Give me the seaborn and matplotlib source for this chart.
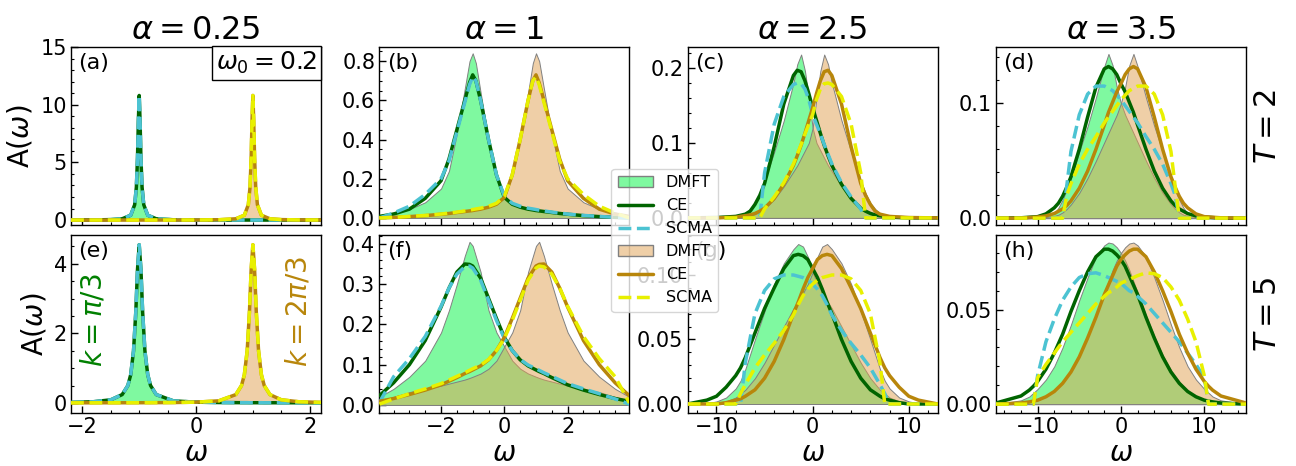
import matplotlib
matplotlib.use('Agg')
import matplotlib.pyplot as plt
from matplotlib.colors import to_rgba
from matplotlib.lines import Line2D
from matplotlib.patches import Patch
from matplotlib.ticker import MultipleLocator, AutoMinorLocator
import seaborn as sns

# ---- spectral functions (k = pi/3 -> "lo", k = 2pi/3 -> "hi") ----

# (a) alpha=0.25, T=2
w_a = [-2.2, -1.8, -1.5, -1.3, -1.15, -1.08, -1.05, -1.03, -1.015, -1.0, -0.985, -0.97, -0.95, -0.92,
       -0.85, -0.7, -0.4, 0.0, 0.4, 0.7, 0.85, 0.92, 0.95, 0.97, 0.985, 1.0, 1.015, 1.03, 1.05, 1.08,
       1.15, 1.3, 1.5, 1.8, 2.2]
peak_a_lo = [0.007, 0.015, 0.04, 0.11, 0.42, 1.33, 2.86, 5.4, 8.6, 10.8, 8.6, 5.4, 2.86, 1.33, 0.42, 0.11,
             0.027, 0.01, 0.005, 0.004, 0.003, 0.003, 0.003, 0.003, 0.003, 0.003, 0.003, 0.003, 0.003,
             0.003, 0.002, 0.002, 0.002, 0.001, 0.001]
peak_a_hi = [0.001, 0.001, 0.002, 0.002, 0.002, 0.003, 0.003, 0.003, 0.003, 0.003, 0.003, 0.003, 0.003,
             0.003, 0.003, 0.004, 0.005, 0.01, 0.027, 0.11, 0.42, 1.33, 2.86, 5.4, 8.6, 10.8, 8.6, 5.4,
             2.86, 1.33, 0.42, 0.11, 0.04, 0.015, 0.007]

# (b) alpha=1, T=2
w_b = [-3.95, -3.5, -3.0, -2.5, -2.0, -1.75, -1.5, -1.25, -1.1, -1.0, -0.9, -0.75, -0.5, -0.25, 0.0,
       0.25, 0.5, 0.75, 0.9, 1.0, 1.1, 1.25, 1.5, 1.75, 2.0, 2.5, 3.0, 3.5, 3.95]
dmft_b_lo = [0.012, 0.028, 0.045, 0.08, 0.15, 0.24, 0.43, 0.66, 0.8, 0.84, 0.79, 0.64, 0.4, 0.22, 0.1,
             0.07, 0.055, 0.047, 0.043, 0.04, 0.038, 0.035, 0.03, 0.026, 0.022, 0.015, 0.01, 0.005, 0.003]
dmft_b_hi = [0.003, 0.005, 0.01, 0.015, 0.022, 0.026, 0.03, 0.035, 0.038, 0.04, 0.043, 0.047, 0.055, 0.07,
             0.1, 0.22, 0.4, 0.64, 0.79, 0.84, 0.8, 0.66, 0.43, 0.24, 0.15, 0.08, 0.045, 0.028, 0.012]
ce_b_lo = [0.008, 0.02, 0.045, 0.1, 0.19, 0.3, 0.45, 0.6, 0.69, 0.73, 0.7, 0.6, 0.4, 0.22, 0.105,
           0.07, 0.055, 0.045, 0.041, 0.038, 0.036, 0.033, 0.028, 0.023, 0.019, 0.012, 0.007, 0.003, 0.001]
ce_b_hi = [0.001, 0.003, 0.007, 0.012, 0.019, 0.023, 0.028, 0.033, 0.036, 0.038, 0.041, 0.045, 0.055,
           0.07, 0.105, 0.22, 0.4, 0.6, 0.7, 0.73, 0.69, 0.6, 0.45, 0.3, 0.19, 0.1, 0.045, 0.02, 0.008]
scma_b_lo = [0.0, 0.025, 0.06, 0.12, 0.2, 0.29, 0.44, 0.59, 0.68, 0.72, 0.7, 0.6, 0.4, 0.22, 0.11,
             0.075, 0.06, 0.05, 0.046, 0.043, 0.04, 0.036, 0.03, 0.025, 0.02, 0.013, 0.008, 0.003, 0.0]
scma_b_hi = [0.0, 0.003, 0.008, 0.013, 0.02, 0.025, 0.03, 0.036, 0.04, 0.043, 0.046, 0.05, 0.06, 0.075,
             0.11, 0.22, 0.4, 0.6, 0.7, 0.72, 0.68, 0.59, 0.44, 0.29, 0.2, 0.12, 0.06, 0.025, 0.0]

# (c) alpha=2.5, T=2
w_c = [-13, -10, -8, -7, -6.5, -6, -5.5, -5, -4, -3, -2, -1.6, -1.2, -0.8, -0.4, 0, 0.4, 0.8, 1.2,
       1.6, 2, 3, 4, 5, 5.5, 6, 6.5, 7, 8, 10, 13]
dmft_c_lo = [0, 0, 0.001, 0.006, 0.012, 0.02, 0.033, 0.05, 0.088, 0.13, 0.18, 0.205, 0.218, 0.196, 0.16,
             0.12, 0.1, 0.09, 0.08, 0.07, 0.062, 0.042, 0.025, 0.012, 0.008, 0.005, 0.003, 0.002, 0.001, 0, 0]
dmft_c_hi = [0, 0, 0.001, 0.002, 0.003, 0.005, 0.008, 0.012, 0.025, 0.042, 0.062, 0.07, 0.08, 0.09, 0.1,
             0.12, 0.16, 0.196, 0.218, 0.205, 0.18, 0.13, 0.088, 0.05, 0.033, 0.02, 0.012, 0.006, 0.001, 0, 0]
ce_c_lo = [0, 0.0005, 0.002, 0.005, 0.009, 0.018, 0.03, 0.046, 0.095, 0.152, 0.19, 0.197, 0.195, 0.183,
           0.166, 0.147, 0.13, 0.113, 0.097, 0.083, 0.07, 0.045, 0.026, 0.013, 0.009, 0.006, 0.004, 0.003,
           0.001, 0, 0]
ce_c_hi = [0, 0, 0.001, 0.003, 0.004, 0.006, 0.009, 0.013, 0.026, 0.045, 0.07, 0.083, 0.097, 0.113, 0.13,
           0.147, 0.166, 0.183, 0.195, 0.197, 0.19, 0.152, 0.095, 0.046, 0.03, 0.018, 0.009, 0.005, 0.002,
           0.0005, 0]
scma_c_lo = [0, 0, 0, 0, 0, 0, 0, 0.06, 0.125, 0.162, 0.178, 0.18, 0.179, 0.172, 0.158, 0.138, 0.125,
             0.112, 0.098, 0.085, 0.072, 0.047, 0.028, 0.012, 0, 0, 0, 0, 0, 0, 0]
scma_c_hi = [0, 0, 0, 0, 0, 0, 0, 0.012, 0.028, 0.047, 0.072, 0.085, 0.098, 0.112, 0.125, 0.138, 0.158,
             0.172, 0.179, 0.18, 0.178, 0.162, 0.125, 0.06, 0, 0, 0, 0, 0, 0, 0]

# (d) alpha=3.5, T=2
w_d = [-15, -12, -10, -9, -8, -7.5, -7, -6.5, -6, -5, -4, -3, -2, -1.5, -1, -0.5, 0, 0.5, 1, 1.5, 2,
       3, 4, 5, 6, 6.5, 7, 7.5, 8, 9, 10, 12, 15]
dmft_d_lo = [0, 0, 0.0005, 0.002, 0.004, 0.009, 0.016, 0.025, 0.035, 0.058, 0.08, 0.105, 0.132, 0.143,
             0.133, 0.114, 0.1, 0.09, 0.082, 0.074, 0.066, 0.05, 0.035, 0.022, 0.012, 0.008, 0.005, 0.003,
             0.002, 0.001, 0, 0, 0]
dmft_d_hi = [0, 0, 0, 0.001, 0.002, 0.003, 0.005, 0.008, 0.012, 0.022, 0.035, 0.05, 0.066, 0.074, 0.082,
             0.09, 0.1, 0.114, 0.133, 0.143, 0.132, 0.105, 0.08, 0.058, 0.035, 0.025, 0.016, 0.009, 0.004,
             0.002, 0.0005, 0, 0]
ce_d_lo = [0, 0.0003, 0.0013, 0.0037, 0.009, 0.013, 0.019, 0.027, 0.036, 0.06, 0.088, 0.114, 0.13, 0.132,
           0.13, 0.125, 0.117, 0.11, 0.101, 0.092, 0.081, 0.06, 0.041, 0.026, 0.015, 0.011, 0.008, 0.006,
           0.004, 0.002, 0.001, 0, 0]
ce_d_hi = [0, 0, 0.001, 0.002, 0.004, 0.006, 0.008, 0.011, 0.015, 0.026, 0.041, 0.06, 0.081, 0.092, 0.101,
           0.11, 0.117, 0.125, 0.13, 0.132, 0.13, 0.114, 0.088, 0.06, 0.036, 0.027, 0.019, 0.013, 0.009,
           0.0037, 0.0013, 0.0003, 0]
scma_d_lo = [0, 0, 0, 0, 0, 0, 0, 0.028, 0.058, 0.09, 0.108, 0.115, 0.115, 0.113, 0.111, 0.107, 0.103,
             0.098, 0.093, 0.088, 0.083, 0.071, 0.06, 0.047, 0.03, 0.02, 0, 0, 0, 0, 0, 0, 0]
scma_d_hi = [0, 0, 0, 0, 0, 0, 0, 0.02, 0.03, 0.047, 0.06, 0.071, 0.083, 0.088, 0.093, 0.098, 0.103,
             0.107, 0.111, 0.113, 0.115, 0.115, 0.108, 0.09, 0.058, 0.028, 0, 0, 0, 0, 0, 0, 0]

# (e) alpha=0.25, T=5
w_e = [-2.2, -1.8, -1.5, -1.3, -1.2, -1.15, -1.1, -1.06, -1.03, -1.0, -0.97, -0.94, -0.9, -0.85, -0.8,
       -0.7, -0.4, 0.0, 0.4, 0.7, 0.8, 0.85, 0.9, 0.94, 0.97, 1.0, 1.03, 1.06, 1.1, 1.15, 1.2, 1.3, 1.5,
       1.8, 2.2]
peak_e_lo = [0.015, 0.035, 0.09, 0.24, 0.5, 0.81, 1.5, 2.62, 3.84, 4.55, 3.84, 2.62, 1.5, 0.81, 0.5, 0.24,
             0.06, 0.022, 0.011, 0.008, 0.007, 0.007, 0.007, 0.006, 0.006, 0.006, 0.006, 0.006, 0.006,
             0.006, 0.005, 0.005, 0.005, 0.004, 0.003]
peak_e_hi = [0.003, 0.004, 0.005, 0.005, 0.005, 0.006, 0.006, 0.006, 0.006, 0.006, 0.006, 0.006, 0.007,
             0.007, 0.007, 0.008, 0.011, 0.022, 0.06, 0.24, 0.5, 0.81, 1.5, 2.62, 3.84, 4.55, 3.84, 2.62,
             1.5, 0.81, 0.5, 0.24, 0.09, 0.035, 0.015]

# (f) alpha=1, T=5
w_f = [-3.95, -3.5, -3.0, -2.5, -2.0, -1.75, -1.5, -1.25, -1.1, -1.0, -0.75, -0.5, -0.25, 0.0, 0.25,
       0.5, 0.75, 1.0, 1.1, 1.25, 1.5, 1.75, 2.0, 2.5, 3.0, 3.5, 3.95]
dmft_f_lo = [0.02, 0.04, 0.07, 0.11, 0.18, 0.235, 0.3, 0.37, 0.405, 0.395, 0.33, 0.235, 0.18, 0.145,
             0.11, 0.09, 0.078, 0.07, 0.067, 0.063, 0.058, 0.053, 0.048, 0.04, 0.032, 0.02, 0.01]
dmft_f_hi = [0.01, 0.02, 0.032, 0.04, 0.048, 0.053, 0.058, 0.063, 0.067, 0.07, 0.078, 0.09, 0.11, 0.145,
             0.18, 0.235, 0.33, 0.395, 0.405, 0.37, 0.3, 0.235, 0.18, 0.11, 0.07, 0.04, 0.02]
ce_f_lo = [0.023, 0.055, 0.1, 0.16, 0.243, 0.29, 0.33, 0.35, 0.349, 0.345, 0.315, 0.265, 0.215, 0.168,
           0.135, 0.112, 0.097, 0.087, 0.083, 0.078, 0.068, 0.059, 0.05, 0.037, 0.026, 0.016, 0.009]
ce_f_hi = [0.009, 0.016, 0.026, 0.037, 0.05, 0.059, 0.068, 0.078, 0.083, 0.087, 0.097, 0.112, 0.135,
           0.168, 0.215, 0.265, 0.315, 0.345, 0.349, 0.35, 0.33, 0.29, 0.243, 0.16, 0.1, 0.055, 0.023]
scma_f_lo = [0.005, 0.07, 0.115, 0.17, 0.245, 0.29, 0.325, 0.343, 0.345, 0.34, 0.31, 0.26, 0.21, 0.165,
             0.135, 0.113, 0.099, 0.09, 0.086, 0.08, 0.071, 0.062, 0.053, 0.04, 0.028, 0.015, 0.002]
scma_f_hi = [0.002, 0.015, 0.028, 0.04, 0.053, 0.062, 0.071, 0.08, 0.086, 0.09, 0.099, 0.113, 0.135,
             0.165, 0.21, 0.26, 0.31, 0.34, 0.345, 0.343, 0.325, 0.29, 0.245, 0.17, 0.115, 0.07, 0.005]

# (g) alpha=2.5, T=5
w_g = [-13, -11, -10, -9, -8, -7.5, -7, -6, -5, -4, -3, -2, -1.5, -1, -0.5, 0, 0.5, 1, 1.5, 2, 3, 4,
       5, 6, 7, 7.5, 8, 9, 10, 11, 13]
dmft_g_lo = [0, 0.0005, 0.002, 0.005, 0.012, 0.018, 0.027, 0.05, 0.072, 0.093, 0.109, 0.12, 0.124, 0.122,
             0.114, 0.102, 0.093, 0.086, 0.08, 0.074, 0.06, 0.046, 0.032, 0.02, 0.011, 0.008, 0.005, 0.002,
             0.001, 0, 0]
dmft_g_hi = [0, 0, 0.001, 0.002, 0.005, 0.008, 0.011, 0.02, 0.032, 0.046, 0.06, 0.074, 0.08, 0.086, 0.093,
             0.102, 0.114, 0.122, 0.124, 0.12, 0.109, 0.093, 0.072, 0.05, 0.027, 0.018, 0.012, 0.005,
             0.002, 0.0005, 0]
ce_g_lo = [0, 0.003, 0.006, 0.013, 0.022, 0.028, 0.036, 0.055, 0.074, 0.09, 0.105, 0.115, 0.116, 0.115,
           0.112, 0.105, 0.098, 0.089, 0.079, 0.07, 0.05, 0.033, 0.02, 0.011, 0.006, 0.004, 0.003, 0.001,
           0, 0, 0]
ce_g_hi = [0, 0, 0, 0.001, 0.003, 0.004, 0.006, 0.011, 0.02, 0.033, 0.05, 0.07, 0.079, 0.089, 0.098,
           0.105, 0.112, 0.115, 0.116, 0.115, 0.105, 0.09, 0.074, 0.055, 0.036, 0.028, 0.022, 0.013,
           0.006, 0.003, 0]
scma_g_lo = [0, 0, 0, 0, 0, 0, 0.032, 0.07, 0.088, 0.097, 0.1, 0.1, 0.099, 0.098, 0.096, 0.093, 0.089,
             0.084, 0.077, 0.069, 0.057, 0.047, 0.038, 0.028, 0.015, 0.008, 0, 0, 0, 0, 0]
scma_g_hi = [0, 0, 0, 0, 0, 0.008, 0.015, 0.028, 0.038, 0.047, 0.057, 0.069, 0.077, 0.084, 0.089, 0.093,
             0.096, 0.098, 0.099, 0.1, 0.1, 0.097, 0.088, 0.07, 0.032, 0, 0, 0, 0, 0, 0]

# (h) alpha=3.5, T=5
w_h = [-15, -12, -11, -10.5, -10, -9, -8, -7, -6, -5, -4, -3, -2, -1.5, -1, -0.5, 0, 0.5, 1, 1.5, 2,
       3, 4, 5, 6, 7, 8, 9, 10, 10.5, 11, 12, 15]
dmft_h_lo = [0, 0.002, 0.004, 0.006, 0.008, 0.013, 0.02, 0.03, 0.042, 0.055, 0.067, 0.078, 0.084, 0.0855,
             0.085, 0.083, 0.08, 0.076, 0.071, 0.065, 0.059, 0.047, 0.036, 0.026, 0.018, 0.012, 0.007,
             0.004, 0.002, 0.0015, 0.001, 0, 0]
dmft_h_hi = [0, 0, 0.001, 0.0015, 0.002, 0.004, 0.007, 0.012, 0.018, 0.026, 0.036, 0.047, 0.059, 0.065,
             0.071, 0.076, 0.08, 0.083, 0.085, 0.0855, 0.084, 0.078, 0.067, 0.055, 0.042, 0.03, 0.02,
             0.013, 0.008, 0.006, 0.004, 0.002, 0]
ce_h_lo = [0.0006, 0.0043, 0.0074, 0.0095, 0.012, 0.0185, 0.027, 0.037, 0.049, 0.06, 0.07, 0.078, 0.082,
           0.082, 0.081, 0.079, 0.0765, 0.073, 0.068, 0.063, 0.058, 0.046, 0.035, 0.025, 0.017, 0.011,
           0.0067, 0.0039, 0.0021, 0.0016, 0.0012, 0.0006, 0]
ce_h_hi = [0, 0.0006, 0.0012, 0.0016, 0.0021, 0.0039, 0.0067, 0.011, 0.017, 0.025, 0.035, 0.046, 0.058,
           0.063, 0.068, 0.073, 0.0765, 0.079, 0.081, 0.082, 0.082, 0.078, 0.07, 0.06, 0.049, 0.037, 0.027,
           0.0185, 0.012, 0.0095, 0.0074, 0.0043, 0.0006]
scma_h_lo = [0, 0, 0, 0, 0.015, 0.033, 0.045, 0.055, 0.062, 0.067, 0.069, 0.0695, 0.068, 0.067, 0.066,
             0.065, 0.064, 0.062, 0.06, 0.059, 0.057, 0.053, 0.048, 0.043, 0.038, 0.033, 0.027, 0.021,
             0.014, 0, 0, 0, 0]
scma_h_hi = [0, 0, 0, 0, 0.014, 0.021, 0.027, 0.033, 0.038, 0.043, 0.048, 0.053, 0.057, 0.059, 0.06,
             0.062, 0.064, 0.065, 0.066, 0.067, 0.068, 0.0695, 0.069, 0.067, 0.062, 0.055, 0.045, 0.033,
             0.015, 0, 0, 0, 0]

alphas = ['0.25', '1', '2.5', '3.5']
temps = ['2', '5']
tags = ['(a)', '(b)', '(c)', '(d)', '(e)', '(f)', '(g)', '(h)']

# colours
GREEN_FILL = to_rgba('#00F542', 0.5)
TAN_FILL = to_rgba('#E1A151', 0.5)
CE_LO = '#006400'
CE_HI = '#B8860B'
SCMA_LO = '#4CC3D2'
SCMA_HI = '#E8F000'

panels = [
    # w, (dmft, ce, scma) lo, (dmft, ce, scma) hi, xlim, ylim, x major, y major
    (w_a, (peak_a_lo,) * 3, (peak_a_hi,) * 3, 2.2, (-0.43, 15), 2, 5),
    (w_b, (dmft_b_lo, ce_b_lo, scma_b_lo), (dmft_b_hi, ce_b_hi, scma_b_hi), 3.95, (-0.036, 0.872), 2, 0.2),
    (w_c, (dmft_c_lo, ce_c_lo, scma_c_lo), (dmft_c_hi, ce_c_hi, scma_c_hi), 13, (-0.0095, 0.228), 10, 0.1),
    (w_d, (dmft_d_lo, ce_d_lo, scma_d_lo), (dmft_d_hi, ce_d_hi, scma_d_hi), 15, (-0.006, 0.149), 10, 0.1),
    (w_e, (peak_e_lo,) * 3, (peak_e_hi,) * 3, 2.2, (-0.29, 4.83), 2, 2),
    (w_f, (dmft_f_lo, ce_f_lo, scma_f_lo), (dmft_f_hi, ce_f_hi, scma_f_hi), 3.95, (-0.02, 0.422), 2, 0.1),
    (w_g, (dmft_g_lo, ce_g_lo, scma_g_lo), (dmft_g_hi, ce_g_hi, scma_g_hi), 13, (-0.007, 0.131), 10, 0.05),
    (w_h, (dmft_h_lo, ce_h_lo, scma_h_lo), (dmft_h_hi, ce_h_hi, scma_h_hi), 15, (-0.0047, 0.0895), 10, 0.05),
]

sns.set_theme(style='white')
plt.rcParams['font.family'] = ['DejaVu Sans']
plt.rcParams['mathtext.fontset'] = 'dejavusans'
for key in ('text.color', 'axes.labelcolor', 'xtick.color', 'ytick.color', 'axes.edgecolor'):
    plt.rcParams[key] = 'black'

fig, axes = plt.subplots(2, 4, figsize=(12.96, 4.66), dpi=100)
fig.subplots_adjust(left=0.0548, right=0.9614, bottom=0.1137, top=0.8991, wspace=0.233, hspace=0.056)

LW = 2.5
for i, (ax, (w, lo, hi, xl, yl, xmaj, ymaj)) in enumerate(zip(axes.flat, panels)):
    ax.fill_between(w, 0, lo[0], facecolor=GREEN_FILL, edgecolor='gray', linewidth=0.7, zorder=1)
    ax.fill_between(w, 0, hi[0], facecolor=TAN_FILL, edgecolor='gray', linewidth=0.7, zorder=1)
    sns.lineplot(x=w, y=lo[1], ax=ax, color=CE_LO, linewidth=LW, estimator=None, sort=False, zorder=3)
    sns.lineplot(x=w, y=lo[2], ax=ax, color=SCMA_LO, linewidth=LW, linestyle='--', estimator=None,
                 sort=False, zorder=3)
    sns.lineplot(x=w, y=hi[1], ax=ax, color=CE_HI, linewidth=LW, estimator=None, sort=False, zorder=3)
    sns.lineplot(x=w, y=hi[2], ax=ax, color=SCMA_HI, linewidth=LW, linestyle='--', estimator=None,
                 sort=False, zorder=3)

    ax.set_xlim(-xl, xl)
    ax.set_ylim(*yl)
    ax.xaxis.set_major_locator(MultipleLocator(xmaj))
    ax.yaxis.set_major_locator(MultipleLocator(ymaj))
    ax.xaxis.set_minor_locator(AutoMinorLocator())
    ax.yaxis.set_minor_locator(AutoMinorLocator())
    ax.tick_params(which='both', direction='in', top=False, right=False, left=True, bottom=True,
                   labelsize=15, color='black', labelcolor='black', pad=3)
    ax.tick_params(which='major', length=5, width=1)
    ax.tick_params(which='minor', length=2.5, width=0.8)
    for s in ax.spines.values():
        s.set_color('black')
        s.set_linewidth(1.0)
    ax.set_xlabel('')
    ax.set_ylabel('')

    ax.text(0.03, 0.965, tags[i], transform=ax.transAxes, ha='left', va='top', fontsize=16)
    if i < 4:
        ax.set_title(r'$\alpha=%s$' % alphas[i], fontsize=23, pad=6)
        ax.tick_params(labelbottom=False)
    else:
        ax.set_xlabel(r'$\omega$', fontsize=20, labelpad=1)
    if i % 4 == 0:
        ax.set_ylabel(r'A($\omega$)', fontsize=20)

axes[0, 0].text(0.985, 0.985, r'$\omega_0=0.2$', transform=axes[0, 0].transAxes, ha='right', va='top',
                fontsize=18, bbox=dict(facecolor='white', edgecolor='black', boxstyle='square,pad=0.15'))
axes[1, 0].text(0.088, 0.52, r'$k=\pi/3$', transform=axes[1, 0].transAxes, rotation=90, ha='center',
                va='center', fontsize=20, color='green')
axes[1, 0].text(0.908, 0.57, r'$k=2\pi/3$', transform=axes[1, 0].transAxes, rotation=90, ha='center',
                va='center', fontsize=20, color=CE_HI)

fig.text(0.978, 0.727, r'$T=%s$' % temps[0], rotation=90, ha='center', va='center', fontsize=22)
fig.text(0.978, 0.324, r'$T=%s$' % temps[1], rotation=90, ha='center', va='center', fontsize=22)

handles = [
    Patch(facecolor=GREEN_FILL, edgecolor='gray'),
    Line2D([], [], color=CE_LO, lw=LW),
    Line2D([], [], color=SCMA_LO, lw=LW, ls='--'),
    Patch(facecolor=TAN_FILL, edgecolor='gray'),
    Line2D([], [], color=CE_HI, lw=LW),
    Line2D([], [], color=SCMA_HI, lw=LW, ls='--'),
]
labels = ['DMFT', 'CE', 'SCMA', 'DMFT', 'CE', 'SCMA']
fig.legend(handles, labels, loc='center', bbox_to_anchor=(0.513, 0.484), fontsize=11.5, frameon=True,
           framealpha=0.8, edgecolor='0.8', fancybox=True, handlelength=2.2)

fig.savefig('out.png', dpi=100)
